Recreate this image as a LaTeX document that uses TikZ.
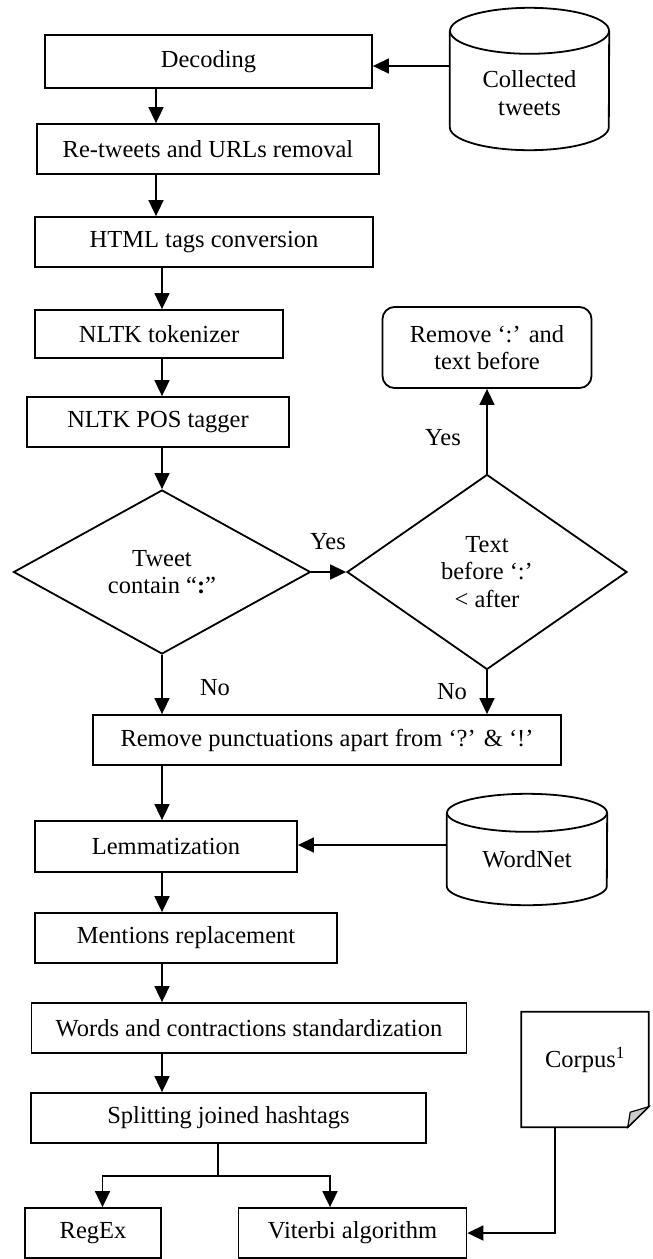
\documentclass[tikz,border=0pt]{standalone}
\usepackage{fontspec}
\setmainfont{Liberation Serif}
\usetikzlibrary{positioning,shapes.geometric,arrows.meta,calc}
\tikzset{every node/.style={font=\fontsize{24.5}{27.5}\selectfont},
  block/.style={draw, line width=1.8pt, inner sep=0pt, minimum height=50pt, align=center},
  decision/.style={draw, diamond, line width=1.8pt, inner sep=0pt, align=center},
  store/.style={inner sep=0pt},
  doc/.style={inner sep=0pt, minimum width=127pt, minimum height=115pt},
  line/.style={-{Triangle[length=16pt,width=15pt]}, line width=1.7pt}}

\begin{document}
\begin{tikzpicture}[x=1pt,y=-1pt]
    \useasboundingbox (0,0) rectangle (653,1259);

    \node[block, minimum width=327pt, minimum height=53pt] (dec)   at (208.5,61.5) {Decoding};
    \node[store, minimum width=159pt, minimum height=142pt] (coll) at (529.5,79)   {};
    \node[align=center]                                    (colltxt) at ([yshift=-14pt]coll.center) {Collected\\tweets};
    \node[block, minimum width=342pt]                      (rt)    at (208,149)    {Re-tweets and URLs removal};
    \node[block, minimum width=338pt]                      (html)  at (204,242)    {HTML tags conversion};
    \node[block, minimum width=248pt, minimum height=48pt] (tok)   at (159,334)    {NLTK tokenizer};
    \node[block, minimum width=262pt]                      (pos)   at (158,422)    {NLTK POS tagger};
    \node[decision, minimum width=297pt, minimum height=164pt] (dia1) at (162,572) {Tweet\\contain “\textbf{:}”};
    \node[decision, minimum width=280pt, minimum height=195pt] (dia2) at (487,572) {Text\\before ‘:’\\< after};
    \node[block, rounded corners=12pt, minimum width=209pt, minimum height=81pt] (rem) at (487,347.5) {Remove ‘:’ and\\text before};
    \node[block, minimum width=468pt]                      (punct) at (327,740)    {Remove punctuations apart from ‘?’ \& ‘!’};
    \node[block, minimum width=262pt, minimum height=51pt] (lem)   at (166,846.5)  {Lemmatization};
    \node[store, minimum width=160pt, minimum height=111pt] (wn)   at (527,849.5)  {};
    \node                                                  (wntxt) at ([yshift=-9.5pt]wn.center) {WordNet};
    \node[block, minimum width=302pt]                      (men)   at (186,938)    {Mentions replacement};
    \node[block, minimum width=435pt]                      (words) at (249,1028)   {Words and contractions standardization};
    \node[block, minimum width=395pt]                      (split) at (228.5,1118) {Splitting joined hashtags};
    \node[block, minimum width=136pt]                      (regex) at (93,1233)    {RegEx};
    \node[block, minimum width=228pt]                      (vit)   at (352.5,1233) {Viterbi algorithm};
    \node[doc]                                             (corpus) at (585,1069.5) {};
    \node                                       (corpuslbl) at ([yshift=9.5pt]corpus.center) {Corpus\textsuperscript{1}};

    \draw[line width=1.8pt] ([yshift=-23pt]coll.north west) -- ([yshift=23pt]coll.south west)
        arc[start angle=180, end angle=360, x radius=79.5pt, y radius=23pt] -- ([yshift=-23pt]coll.north east);
    \draw[line width=1.8pt] ([yshift=-23pt]coll.north) ellipse [x radius=79.5pt, y radius=23pt];
    \draw[line width=1.8pt] ([yshift=-19pt]wn.north west) -- ([yshift=19pt]wn.south west)
        arc[start angle=180, end angle=360, x radius=80pt, y radius=19pt] -- ([yshift=-19pt]wn.north east);
    \draw[line width=1.8pt] ([yshift=-19pt]wn.north) ellipse [x radius=80pt, y radius=19pt];

    \draw[line width=1.8pt] (corpus.north west) -- (corpus.north east) -- ([yshift=20.5pt]corpus.south east)
        -- ([xshift=-21pt]corpus.south east) -- (corpus.south west) -- cycle;
    \filldraw[fill=gray!40, line width=1.2pt] ([xshift=-21pt]corpus.south east) -- ([xshift=-18.5pt,yshift=15pt]corpus.south east)
        -- ([yshift=20.5pt]corpus.south east) -- cycle;

    \node (yes1) at (328,542) {Yes};
    \node (yes2) at (443,438) {Yes};
    \node (no1)  at (215,688) {No};
    \node (no2)  at (452,692) {No};

    \coordinate (ax0)  at (156,0);
    \coordinate (ax)   at (162,0);
    \coordinate (fork) at (218,1176);

    \draw[line]               ([yshift=13pt]coll.west) -- ([yshift=13pt]coll.west -| dec.east);
    \draw[line]               (dec.south -| ax0) -- (rt.north -| ax0);
    \draw[line]               (rt.south -| ax0) -- (html.north -| ax0);
    \draw[line]               (html.south -| ax) -- (tok.north -| ax);
    \draw[line]               (tok.south -| ax) -- (pos.north -| ax);
    \draw[line]               (pos.south -| ax) -- (dia1.north);
    \draw[line]               (dia1.east) -- (dia2.west);
    \draw[line]               (dia2.north) -- (rem.south);
    \draw[line]               (dia1.south) -- (dia1.south |- punct.north);
    \draw[line]               (dia2.south) -- (dia2.south |- punct.north);
    \draw[line]               (punct.south -| ax) -- (lem.north -| ax);
    \draw[line]               ([yshift=4.5pt]wn.west) -- ([yshift=4.5pt]wn.west -| lem.east);
    \draw[line]               (lem.south -| ax) -- (men.north -| ax);
    \draw[line]               (men.south -| ax) -- (words.north -| ax);
    \draw[line]               (words.south -| ax) -- (split.north -| ax);
    \draw[line width=1.7pt]   (fork |- split.south) -- (fork);
    \draw[line]               (fork) -| ([xshift=9.5pt]regex.north);
    \draw[line]               (fork) -| ([xshift=-22.5pt]vit.north);
    \draw[line]               ([xshift=-30pt]corpus.south) |- (vit.east);
\end{tikzpicture}
\end{document}
